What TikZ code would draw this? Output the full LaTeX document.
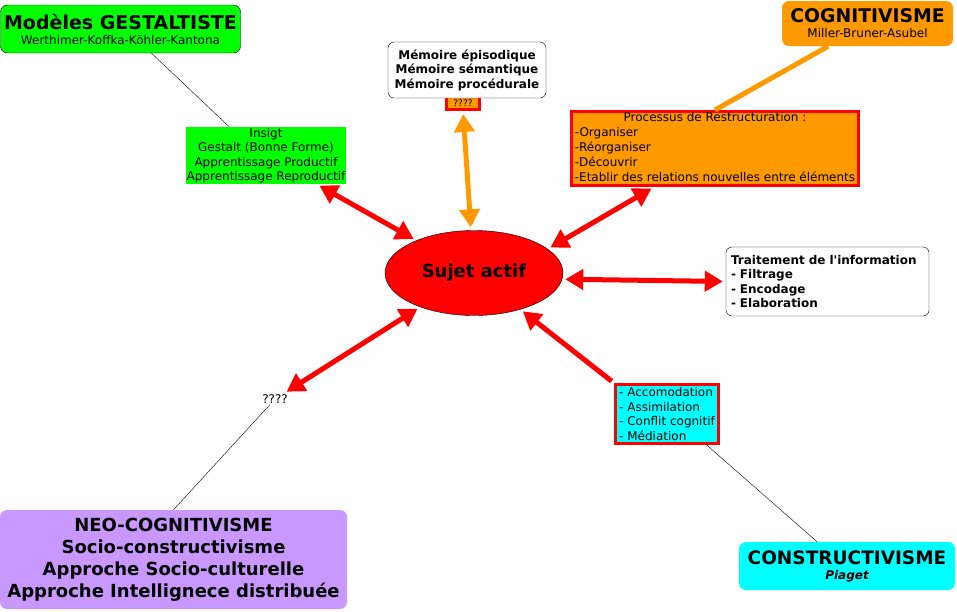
\documentclass[tikz,border=0pt]{standalone}
\usepackage{fontspec}
\setmainfont{DejaVu Sans}
\usetikzlibrary{calc, arrows.meta, shapes.geometric}

\definecolor{vertvif}{RGB}{0,255,0}
\definecolor{orangevif}{RGB}{255,153,0}
\definecolor{cyanvif}{RGB}{0,255,255}
\definecolor{mauve}{RGB}{200,152,255}

\begin{document}
\begin{tikzpicture}[x=1pt,y=-1pt,
	petit/.style={font=\fontsize{12}{14.5}\selectfont},
	gras/.style={font=\fontsize{12}{14.5}\selectfont\bfseries},
	titre/.style={rounded corners=7pt, align=center, inner sep=0pt, font=\fontsize{12}{15}\selectfont},
	cadre/.style={draw=red, line width=3pt, inner sep=1pt, petit},
	bulle/.style={draw=black, fill=white, rounded corners=6pt, align=left, inner sep=0pt, gras},
	fleche/.style={red, line width=5pt, shorten <=3pt, shorten >=3pt},
	pointe/.tip={Triangle[length=18pt,width=20pt]}
	] 

		\useasboundingbox (0,0) rectangle (957,611);

		% grandes familles
		\node[titre, draw=black, fill=vertvif, minimum width=240pt, minimum height=48pt] (gestalt) at (120.5,29)
			{{\fontsize{19}{20}\selectfont\bfseries Modèles GESTALTISTE}\\Werthimer-Koffka-Köhler-Kantona};
		\node[titre, fill=orangevif, minimum width=171pt, minimum height=45pt] (cogni) at (867.5,23.5)
			{{\fontsize{18.8}{20}\selectfont\bfseries COGNITIVISME}\\Miller-Bruner-Asubel};
		\node[titre, fill=cyanvif, minimum width=216pt, minimum height=48pt] (constr) at (847,566)
			{{\fontsize{18.5}{20}\selectfont\bfseries CONSTRUCTIVISME}\\{\bfseries\itshape Piaget}};
		\node[titre, fill=mauve, minimum width=347pt, minimum height=99pt, font=\fontsize{18}{22}\selectfont\bfseries] (neo) at (173.5,559.5)
			{NEO-COGNITIVISME\\Socio-constructivisme\\Approche Socio-culturelle\\Approche Intellignece distribuée};

		% sujet
		\node[ellipse, draw=black, fill=red, minimum width=178pt, minimum height=85pt, font=\fontsize{18}{20}\selectfont\bfseries] (sujet) at (474,273) {Sujet actif};

		% concepts
		\node[petit, fill=vertvif, align=center, inner sep=0pt, minimum width=160pt, minimum height=57pt] (insigt) at (266,155.5)
			{Insigt\\Gestalt (Bonne Forme)\\Apprentissage Productif\\Apprentissage Reproductif};
		\node[cadre, fill=orangevif, minimum width=33pt, minimum height=13pt, font=\fontsize{9}{10}\selectfont] (qq) at (463,103) {????};
		\node[bulle, align=center, minimum width=158pt, minimum height=56pt] (memoire) at (467,70)
			{Mémoire épisodique\\Mémoire sémantique\\Mémoire procédurale};
		\node[cadre, fill=orangevif, inner sep=0pt, minimum width=287pt, minimum height=74pt, font=\fontsize{12}{14.8}\selectfont] (proc) at (715,148.5)
			{\begin{tabular}{@{}l@{}}\multicolumn{1}{@{}c@{}}{Processus de Restructuration :}\\-Organiser\\-Réorganiser\\-Découvrir\\-Etablir des relations nouvelles entre éléments\end{tabular}};
		\node[bulle, minimum width=203pt, minimum height=69pt, text width=193pt] (trait) at (827.5,281.5)
			{Traitement de l\textquotesingle information\\- Filtrage\\- Encodage\\- Elaboration};
		\node[cadre, fill=cyanvif, align=left, minimum width=103pt, minimum height=59pt] (accom) at (667,414)
			{- Accomodation\\- Assimilation\\- Conflit cognitif\\- Médiation};
		\node[petit, inner sep=1pt] (qmark) at (275,399) {????};

		% liens fins
		\draw (gestalt.-38) -- (insigt.142);
		\draw (accom.-38) -- (constr.141);
		\draw (qmark) -- (neo.north);
		\draw [orangevif, line width=5pt] (cogni.210) -- (proc.north);

		% fleches
		\draw [fleche, pointe-pointe] (sujet) -- (insigt);
		\draw [fleche, pointe-pointe] (sujet.18) -- ($(proc.south west)!0.29!(proc.south east)$);
		\draw [fleche, pointe-pointe] (sujet.-4) -- (trait.west);
		\draw [fleche, pointe-pointe] (sujet) -- (qmark);
		\draw [fleche, -pointe] (accom.north west) -- (sujet);
		\draw [fleche, orangevif, pointe-pointe] (qq.south) -- (sujet.94);

	\end{tikzpicture}
\end{document}
